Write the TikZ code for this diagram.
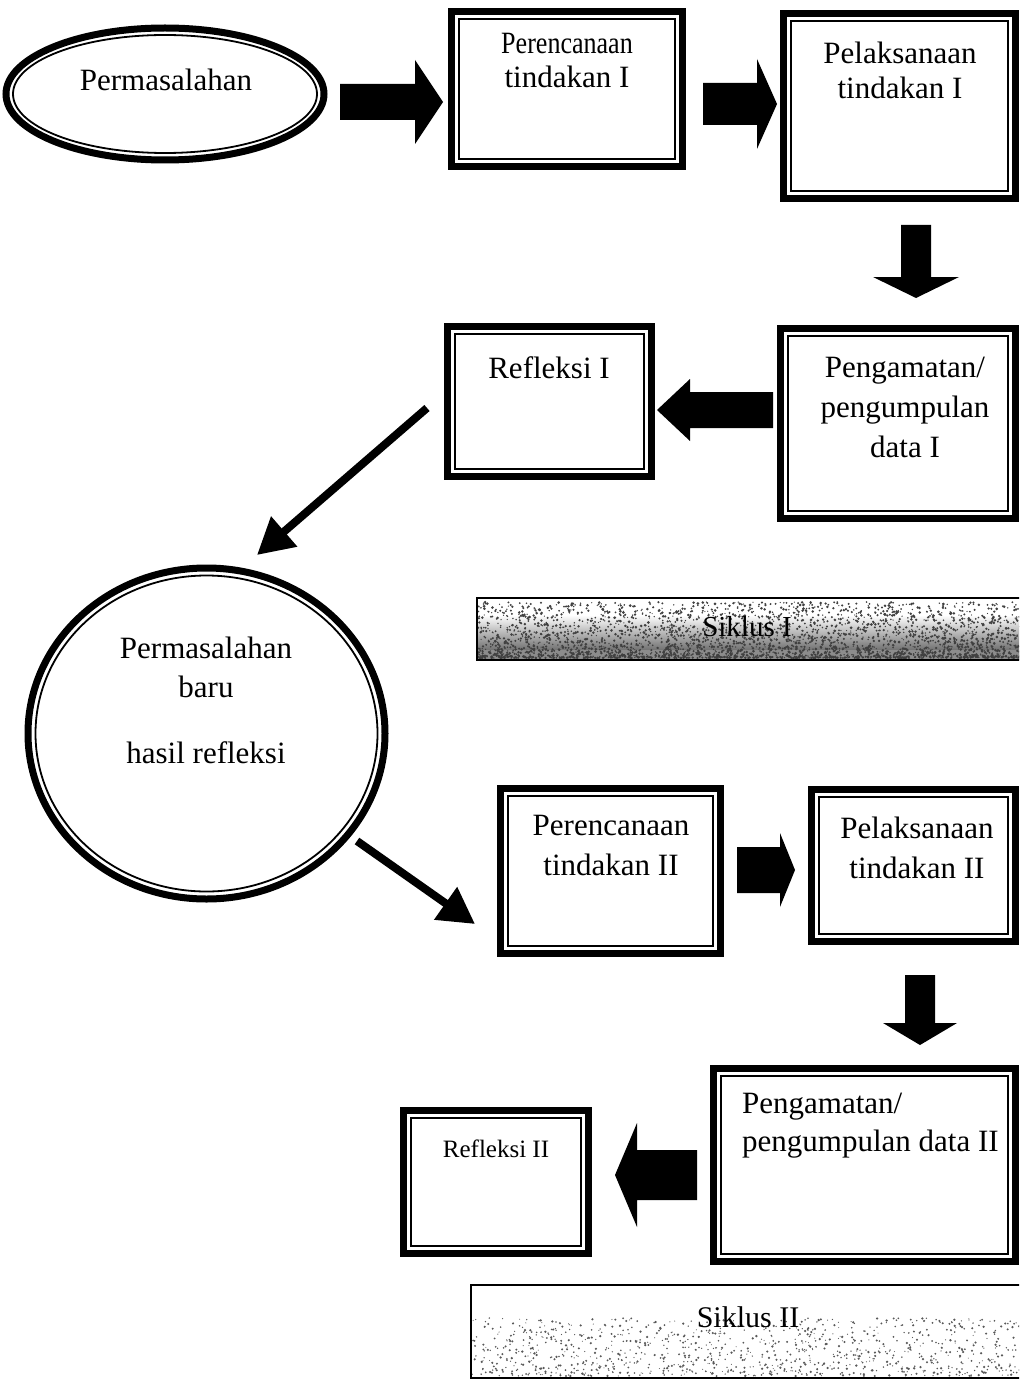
\documentclass[tikz,border=0pt]{standalone}
\usepackage{fontspec}
\setmainfont{Liberation Serif}
\usepackage{graphicx}
\usetikzlibrary{arrows.meta,calc,shapes.geometric}

% block arrow: #1 tail coordinate, #2 tip coordinate, #3 shaft half width, #4 head half width, #5 head length
\newcommand\blockarrow[5]{%
  \path let \p1=(#1), \p2=(#2),
    \n1={atan2(\y2-\y1,\x2-\x1)},
    \n2={veclen(\x2-\x1,\y2-\y1)} in
    \pgfextra{\xdef\baang{\n1}\xdef\balen{\n2}\xdef\bax{\x1}\xdef\bay{\y1}};
  \begin{scope}[shift={(\bax,\bay)}, rotate=\baang]
    \fill[black] (0,#3) -- ({\balen-#5},#3) -- ({\balen-#5},#4)
      -- (\balen,0) -- ({\balen-#5},-#4) -- ({\balen-#5},-#3)
      -- (0,-#3) -- cycle;
  \end{scope}}

\begin{document}
\begin{tikzpicture}[x=1pt,y=-1pt,
  dbox/.style={draw, line width=7.5pt, inner sep=0pt, outer sep=0pt,
    path picture={\draw[line width=1.8pt]
      ([shift={(7.8pt,-7.8pt)}]path picture bounding box.north west) rectangle
      ([shift={(-7.8pt,7.8pt)}]path picture bounding box.south east);}},
  txt/.style={inner sep=0pt, anchor=north, align=center},
  diag/.style={line width=8pt, -{Triangle[length=36pt,width=38pt]}},
  bar/.style={draw, line width=1.5pt},
]
\useasboundingbox (0,0) rectangle (1019,1380);
\clip (0,0) rectangle (1019,1380);

% ---------- Siklus bars (background texture) ----------
\shade[top color=white, bottom color=black!70] (478,615) rectangle (1035,659);
\fill[black!45] (478,650) rectangle (1035,659);
\pgfmathsetseed{12345}
\foreach \i in {1,...,3200}{
  \pgfmathsetmacro\sx{478+557*rnd}
  \pgfmathsetmacro\sy{658-56*rnd^1.8}
  \pgfmathsetmacro\sr{0.6+0.9*rnd}
  \fill[black!75] (\sx,\sy) circle[radius=\sr pt];
}
\foreach \i in {1,...,1100}{
  \pgfmathsetmacro\sx{472+563*rnd}
  \pgfmathsetmacro\sy{1376-58*rnd^1.3}
  \pgfmathsetmacro\sr{0.5+0.8*rnd}
  \fill[black!65] (\sx,\sy) circle[radius=\sr pt];
}
\node[bar, minimum width=560, minimum height=62, inner sep=0pt, outer sep=0pt] (bar1) at (757,629) {};
\node[bar, minimum width=566, minimum height=93, inner sep=0pt, outer sep=0pt] (bar2) at (754,1331.5) {};
\node[inner sep=0pt, font=\fontsize{29}{34}\selectfont] (s1) at (747,627) {Siklus I};
\node[inner sep=0pt, font=\fontsize{30}{34}\selectfont] (s2) at (748,1317) {Siklus II};

% ---------- Ellipse and circle ----------
\node[draw, ellipse, line width=7pt, minimum width=318, minimum height=132, inner sep=0pt] (ell) at (165,94) {};
\draw[line width=1.8pt] (ell.center) ellipse [x radius=152pt, y radius=59pt];
\node[txt, font=\fontsize{31}{36}\selectfont] (tell) at (166,69) {Permasalahan};

\node[draw, ellipse, line width=7pt, minimum width=357, minimum height=331, inner sep=0pt] (circ) at (206.5,733.5) {};
\draw[line width=1.8pt] (circ.center) ellipse [x radius=171pt, y radius=158pt];
\node[txt, font=\fontsize{31}{39}\selectfont] (tcirc) at (206,637) {Permasalahan\\baru\\[27pt]hasil refleksi};

% ---------- Boxes ----------
\node[dbox, minimum width=231, minimum height=155] (boxA) at (567,89) {};
\node[dbox, minimum width=232, minimum height=185] (boxB) at (899.5,106) {};
\node[dbox, minimum width=204, minimum height=150] (boxC) at (549.5,401.5) {};
\node[dbox, minimum width=235, minimum height=190] (boxD) at (898,423.5) {};
\node[dbox, minimum width=220, minimum height=165] (boxE) at (610.5,871) {};
\node[dbox, minimum width=204, minimum height=152] (boxF) at (913.5,865.5) {};
\node[dbox, minimum width=302, minimum height=193] (boxG) at (864.5,1165) {};
\node[dbox, minimum width=185, minimum height=143] (boxH) at (496,1182) {};

\node[txt, font=\fontsize{31}{34}\selectfont] (tA) at (567,33) {\scalebox{0.84}[1]{Perencanaan}\\tindakan I};
\node[txt, font=\fontsize{31}{35}\selectfont] (tB) at (900,42) {Pelaksanaan\\tindakan I};
\node[txt, font=\fontsize{31}{36}\selectfont] (tC) at (549,356) {Refleksi I};
\node[txt, font=\fontsize{31}{40}\selectfont] (tD) at (905,357) {Pengamatan/\\pengumpulan\\data I};
\node[txt, font=\fontsize{31}{40}\selectfont] (tE) at (611,815) {Perencanaan\\tindakan II};
\node[txt, font=\fontsize{31}{40}\selectfont] (tF) at (917,817) {Pelaksanaan\\tindakan II};
\node[txt, anchor=north west, align=left, font=\fontsize{31}{38}\selectfont] (tG) at (742,1093) {Pengamatan/\\pengumpulan data II};
\node[txt, font=\fontsize{25}{30}\selectfont] (tH) at (496,1140) {Refleksi II};

% ---------- Block arrows ----------
\coordinate (a1s) at (340,102); \coordinate (a1e) at (443,102);
\coordinate (a2s) at (703,104); \coordinate (a2e) at (777,104);
\coordinate (a3s) at (916,225); \coordinate (a3e) at (916,298);
\coordinate (a4s) at (773,410); \coordinate (a4e) at (657,410);
\coordinate (a5s) at (737,870); \coordinate (a5e) at (795,870);
\coordinate (a6s) at (920,975); \coordinate (a6e) at (920,1045);
\coordinate (a7s) at (697,1175); \coordinate (a7e) at (615,1175);
\blockarrow{a1s}{a1e}{18}{42}{28}
\blockarrow{a2s}{a2e}{21}{45}{20}
\blockarrow{a3s}{a3e}{15}{43}{21}
\blockarrow{a4s}{a4e}{18}{31}{33}
\blockarrow{a5s}{a5e}{23}{37}{15}
\blockarrow{a6s}{a6e}{15}{37}{22}
\blockarrow{a7s}{a7e}{25}{52}{22}

% ---------- Diagonal arrows ----------
\coordinate (d1s) at (427,408); \coordinate (d1e) at (257,555);
\coordinate (d2s) at (357,841); \coordinate (d2e) at (475,924);
\draw[diag] (d1s) -- (d1e);
\draw[diag] (d2s) -- (d2e);
\end{tikzpicture}
\end{document}
